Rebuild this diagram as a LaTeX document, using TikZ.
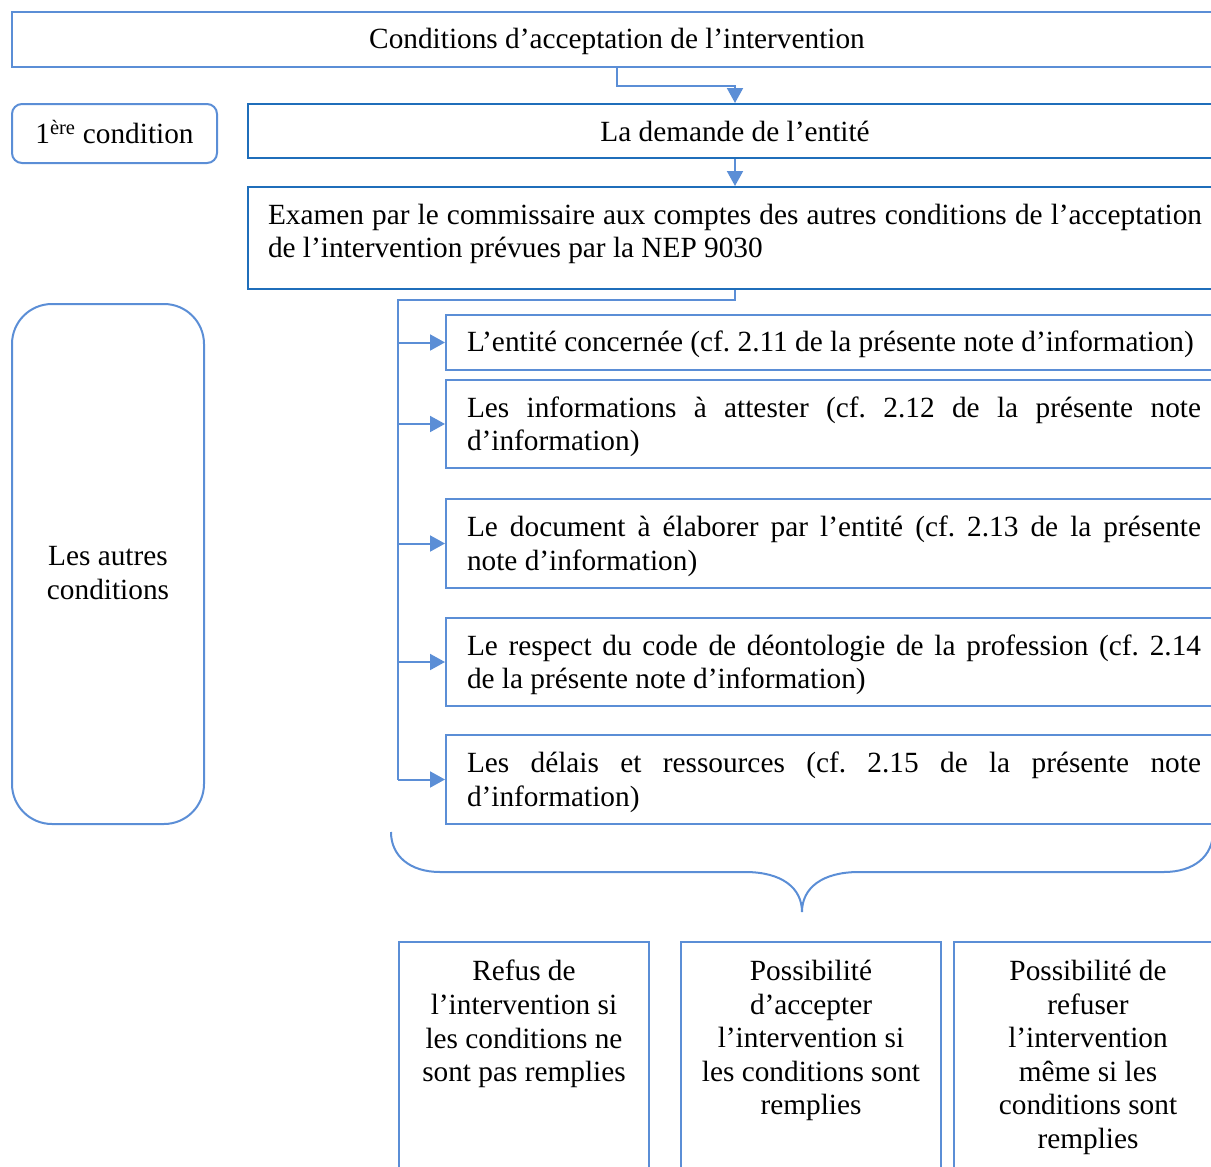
\documentclass[tikz,border=0pt]{standalone}
\usepackage{fontspec}
\setmainfont{Liberation Serif}
\usetikzlibrary{arrows.meta}
\definecolor{lightblue}{RGB}{91,142,214}
\definecolor{darkblue}{RGB}{31,110,186}
\newcommand{\jline}[2]{\makebox[#1][s]{\spaceskip=0pt\xspaceskip=0pt#2}}

\begin{document}
\begin{tikzpicture}[x=1pt,y=-1pt,
	font=\fontsize{29.3}{33.6}\selectfont,
	box/.style={draw=lightblue,line width=2pt,inner xsep=20pt,inner ysep=0pt,anchor=north west,
		execute at begin node={\frenchspacing\spaceskip=0pt\xspaceskip=0pt}},
	darkbox/.style={box,draw=darkblue},
	conn/.style={draw=lightblue,line width=2pt},
	arr/.style={conn,-{Triangle[width=16pt,length=15pt]}}]
\pgfmathsetmacro{\rightedge}{1221}
\pgfmathsetmacro{\textw}{734}
\useasboundingbox (0,0) rectangle (1211,1167);
\clip (0,0) rectangle (1211,1167);

% top row
\node[box,minimum width=\rightedge-11,minimum height=55,text depth=2pt] (cond) at (11,11) {Conditions d'acceptation de l'intervention};
\node[box,rounded corners=10pt,minimum width=205,minimum height=59,text depth=4pt] (first) at (11,103) {1\textsuperscript{ère} condition};
\node[darkbox,minimum width=\rightedge-247,minimum height=54] (demande) at (247,103) {La demande de l'entité};
\node[darkbox,minimum width=\rightedge-247,minimum height=102,text depth=48pt,text width=\rightedge-287,align=left] (exam) at (247,186)
	{\jline{934pt}{Examen par le commissaire aux comptes des autres conditions de l'acceptation}\\de l'intervention prévues par la NEP 9030};
\draw[arr] (cond.south) -- ++(0,18) -| (demande.north);
\draw[arr] (demande.south) -- (exam.north);

% the other conditions
\node[box,rounded corners=40pt,minimum width=192,minimum height=520,text height=70pt,text depth=0pt,align=center] (autres) at (11,303) {Les autres\\conditions};
\node[box,inner xsep=21pt,minimum height=55,text depth=2pt,text width=\textw,align=left] (entite) at (445,314)
	{\mbox{L'entité concernée (cf. 2.11 de la présente note d'information)}};
\foreach \name/\top/\h/\txt in {
	infos/379/88/{\jline{\textw pt}{Les informations à attester (cf. 2.12 de la présente note}\\d'information)},
	document/498/89/{\jline{\textw pt}{Le document à élaborer par l'entité (cf. 2.13 de la présente}\\note d'information)},
	deonto/617/88/{\jline{\textw pt}{Le respect du code de déontologie de la profession (cf. 2.14}\\de la présente note d'information)},
	delais/734/89/{\jline{\textw pt}{Les délais et ressources (cf. 2.15 de la présente note}\\d'information)}}{
	\node[box,inner xsep=21pt,minimum height=\h,text depth=34pt,text width=\textw,align=left] (\name) at (445,\top) {\txt};
}
\coordinate (bus) at (398,300);
\draw[conn] (exam.south) |- (bus) -- (bus |- delais.west);
\foreach \name in {entite,infos,document,deonto,delais}{
	\draw[arr] (bus |- \name.west) -- (\name.west);
}

% brace
\draw[conn] (391,832) .. controls (391,856) and (410,872) .. (440,872) -- (745,872)
	.. controls (782,872) and (802,888) .. (802,912)
	.. controls (802,888) and (822,872) .. (859,872) -- (1164,872)
	.. controls (1194,872) and (1213,856) .. (1213,832);

% outcomes
\node[box,minimum width=250,minimum height=250] (refus) at (398,941) {};
\node[box,minimum width=260,minimum height=250] (accepter) at (680,941) {};
\node[box,minimum width=\rightedge-953,minimum height=250] (refuser) at (953,941) {};
\node[anchor=north,align=center,inner sep=0pt] (refustxt) at ([yshift=-19pt]refus.north) {Refus de\\l'intervention si\\les conditions ne\\sont pas remplies};
\node[anchor=north,align=center,inner sep=0pt] (acceptertxt) at ([yshift=-19pt]accepter.north) {Possibilité\\d'accepter\\l'intervention si\\les conditions sont\\remplies};
\node[anchor=north,align=center,inner sep=0pt] (refusertxt) at ([yshift=-19pt]refuser.north) {Possibilité de\\refuser\\l'intervention\\même si les\\conditions sont\\remplies};

\end{tikzpicture}
\end{document}
